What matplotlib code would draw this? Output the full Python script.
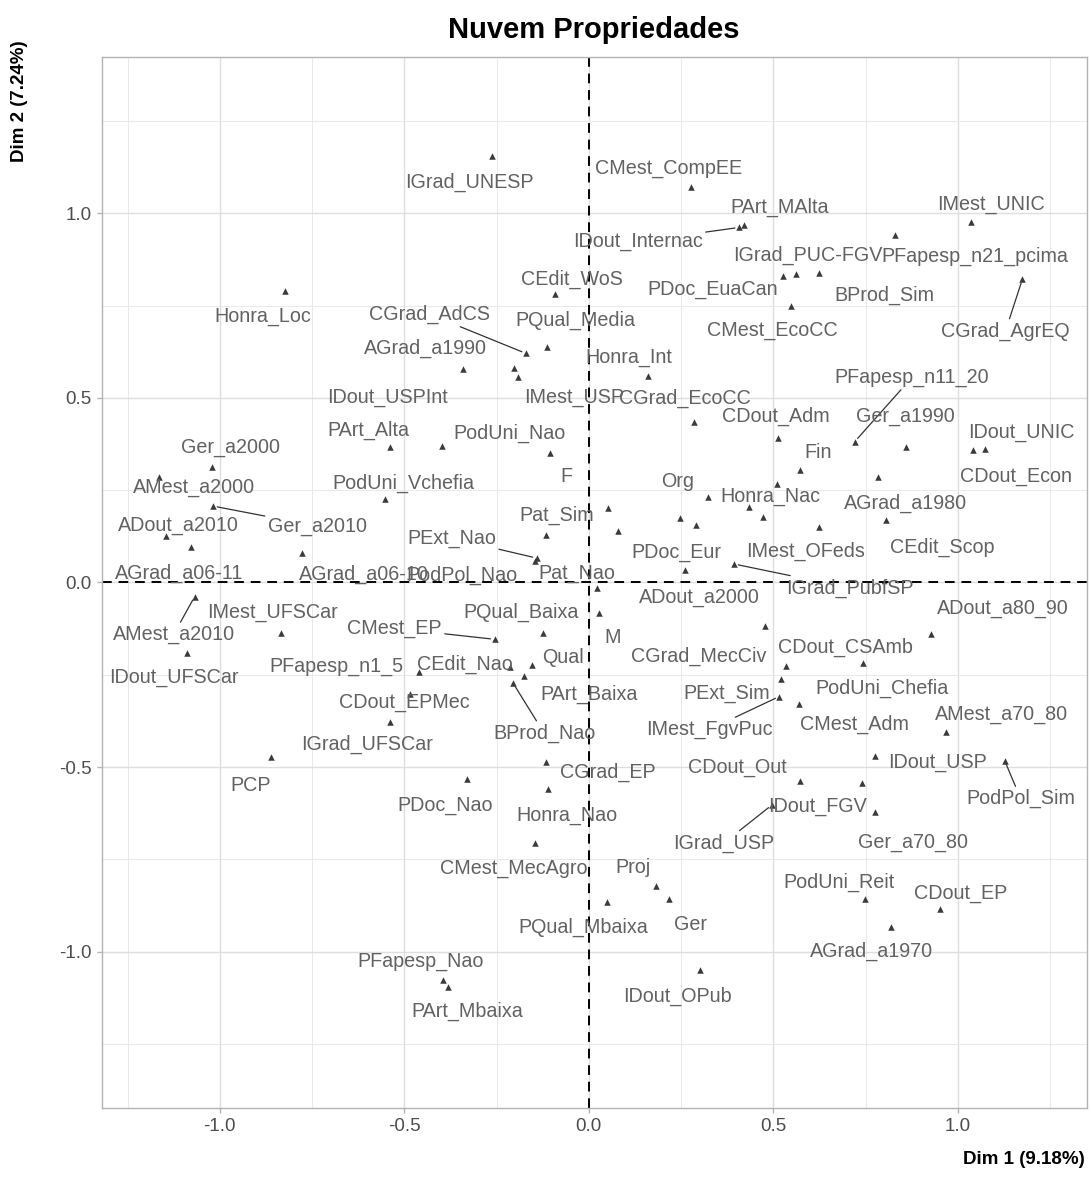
# nuvem_propriedades.py
# MCA variable-category cloud (Dim 1 x Dim 2) with repelled-style labels.
# Run: python nuvem_propriedades.py

import matplotlib
matplotlib.use("Agg")
import matplotlib.pyplot as plt
from matplotlib.ticker import MultipleLocator

plt.rcParams["font.family"] = ["Liberation Sans", "DejaVu Sans"]

# ── DATA ──────────────────────────────────────────────────────────────────────

categories = [
    "IGrad_UNESP", "CMest_CompEE", "PArt_MAlta", "IDout_Internac", "IMest_UNIC",
    "IGrad_PUC-FGV", "PFapesp_n21_pcima", "CEdit_WoS", "PDoc_EuaCan", "BProd_Sim",
    "CMest_EcoCC", "CGrad_AgrEQ", "Honra_Loc", "CGrad_AdCS", "PQual_Media",
    "AGrad_a1990", "Honra_Int", "IDout_USPInt", "IMest_USP", "CGrad_EcoCC",
    "PFapesp_n11_20", "CDout_Adm", "Ger_a1990", "IDout_UNIC", "CDout_Econ",
    "PArt_Alta", "PodUni_Nao", "F", "Ger_a2000", "AMest_a2000",
    "PodUni_Vchefia", "Ger_a2010", "ADout_a2010", "AGrad_a06-11", "AGrad_a06-10",
    "Fin", "AGrad_a1980", "CEdit_Scop", "IMest_OFeds", "Org",
    "Honra_Nac", "PDoc_Eur", "ADout_a2000", "IGrad_PubfSP", "Pat_Sim",
    "PExt_Nao", "PodPol_Nao", "Pat_Nao", "M", "PQual_Baixa",
    "CMest_EP", "CEdit_Nao", "Qual", "PArt_Baixa", "BProd_Nao",
    "PFapesp_n1_5", "CDout_EPMec", "IMest_UFSCar", "AMest_a2010", "IDout_UFSCar",
    "IGrad_UFSCar", "PCP", "PDoc_Nao", "CGrad_EP", "Honra_Nao",
    "CMest_MecAgro", "Proj", "Ger", "PQual_Mbaixa", "PFapesp_Nao",
    "PArt_Mbaixa", "IDout_OPub", "CGrad_MecCiv", "CDout_CSAmb", "PExt_Sim",
    "IMest_FgvPuc", "CMest_Adm", "PodUni_Chefia", "ADout_a80_90", "AMest_a70_80",
    "IDout_USP", "PodPol_Sim", "CDout_Out", "IDout_FGV", "IGrad_USP",
    "Ger_a70_80", "PodUni_Reit", "CDout_EP", "AGrad_a1970",
    # categories whose labels were dropped for overlap
    "", "", "", "", "",
]

dim1 = [
    -0.261, 0.278, 0.420, 0.407, 1.037,
    0.561, 0.829, -0.092, 0.525, 0.624,
    0.549, 1.175, -0.824, -0.171, -0.112,
    -0.342, 0.161, -0.203, -0.193, 0.285,
    0.721, 0.513, 0.859, 1.073, 1.041,
    -0.539, -0.399, -0.106, -1.020, -1.164,
    -0.553, -1.018, -1.147, -1.079, -0.777,
    0.572, 0.784, 0.804, 0.624, 0.323,
    0.434, 0.247, 0.262, 0.394, -0.115,
    -0.141, -0.146, 0.022, 0.027, -0.125,
    -0.255, -0.214, -0.155, -0.176, -0.205,
    -0.460, -0.485, -0.833, -1.068, -1.089,
    -0.539, -0.860, -0.331, -0.115, -0.110,
    -0.146, 0.182, 0.218, 0.048, -0.395,
    -0.381, 0.301, 0.477, 0.534, 0.522,
    0.516, 0.570, 0.742, 0.926, 0.969,
    0.775, 1.127, 0.572, 0.739, 0.496,
    0.775, 0.748, 0.951, 0.820,
    0.052, 0.079, 0.290, 0.472, 0.509,
]

dim2 = [
    1.156, 1.073, 0.969, 0.962, 0.978,
    0.836, 0.942, 0.782, 0.831, 0.838,
    0.749, 0.822, 0.791, 0.621, 0.637,
    0.578, 0.560, 0.580, 0.558, 0.436,
    0.382, 0.391, 0.367, 0.361, 0.359,
    0.366, 0.370, 0.351, 0.314, 0.287,
    0.225, 0.207, 0.126, 0.097, 0.079,
    0.305, 0.287, 0.169, 0.151, 0.231,
    0.204, 0.174, 0.034, 0.050, 0.129,
    0.066, 0.058, -0.015, -0.083, -0.136,
    -0.154, -0.228, -0.224, -0.253, -0.273,
    -0.242, -0.302, -0.138, -0.038, -0.192,
    -0.377, -0.474, -0.533, -0.486, -0.560,
    -0.707, -0.822, -0.859, -0.865, -1.077,
    -1.095, -1.050, -0.117, -0.226, -0.262,
    -0.309, -0.329, -0.217, -0.140, -0.404,
    -0.470, -0.483, -0.537, -0.543, -0.603,
    -0.621, -0.859, -0.886, -0.933,
    0.201, 0.140, 0.156, 0.178, 0.267,
]

dim1_pct = 9.18
dim2_pct = 7.24

# ── LABEL LAYOUT (pixel offsets of each label centre from its point) ─────────

LABEL_OFFSETS = {
    "IGrad_UNESP": (-23, -26), "CMest_CompEE": (-23, 18), "PArt_MAlta": (36, 18),
    "IDout_Internac": (-101, -14), "IMest_UNIC": (20, 17), "IGrad_PUC-FGV": (12, 19),
    "PFapesp_n21_pcima": (80, -22), "CEdit_WoS": (17, 15), "PDoc_EuaCan": (-70, -14),
    "BProd_Sim": (65, -22), "CMest_EcoCC": (-19, -24), "CGrad_AgrEQ": (-17, -52),
    "Honra_Loc": (-22, -26), "CGrad_AdCS": (-96, 39), "PQual_Media": (28, 27),
    "AGrad_a1990": (-37, 21), "Honra_Int": (-19, 18), "IDout_USPInt": (-126, -29),
    "IMest_USP": (57, -21), "CGrad_EcoCC": (-9, 23), "PFapesp_n11_20": (57, 64),
    "CDout_Adm": (-2, 22), "Ger_a1990": (0, 31), "IDout_UNIC": (37, 17),
    "CDout_Econ": (43, -26), "PArt_Alta": (-22, 17), "PodUni_Nao": (68, 13),
    "F": (17, -24), "Ger_a2000": (18, 19), "AMest_a2000": (35, -11),
    "PodUni_Vchefia": (19, 16), "Ger_a2010": (104, -20), "ADout_a2010": (13, 10),
    "AGrad_a06-11": (-11, -27), "AGrad_a06-10": (62, -21), "Fin": (18, 17),
    "AGrad_a1980": (27, -27), "CEdit_Scop": (57, -27), "IMest_OFeds": (-14, -25),
    "Org": (-30, 16), "Honra_Nac": (21, 11), "PDoc_Eur": (-4, -34),
    "ADout_a2000": (14, -28), "IGrad_PubfSP": (116, -24), "Pat_Sim": (10, 20),
    "PExt_Nao": (-85, 20), "PodPol_Nao": (-73, -14), "Pat_Nao": (-20, 15),
    "M": (14, -24), "PQual_Baixa": (-22, 20), "CMest_EP": (-100, 11),
    "CEdit_Nao": (-45, 2), "Qual": (31, 8), "PArt_Baixa": (65, -19),
    "BProd_Nao": (31, -50), "PFapesp_n1_5": (-83, 5), "CDout_EPMec": (-6, -9),
    "IMest_UFSCar": (-9, 21), "AMest_a2010": (-21, -38), "IDout_UFSCar": (-13, -24),
    "IGrad_UFSCar": (-23, -23), "PCP": (-21, -28), "PDoc_Nao": (-22, -26),
    "CGrad_EP": (61, -11), "Honra_Nao": (19, -26), "CMest_MecAgro": (-21, -25),
    "Proj": (-23, 18), "Ger": (21, -25), "PQual_Mbaixa": (-23, -26),
    "PFapesp_Nao": (-22, 18), "PArt_Mbaixa": (19, -25), "IDout_OPub": (-22, -26),
    "CGrad_MecCiv": (-66, -31), "CDout_CSAmb": (60, 19), "PExt_Sim": (-55, -14),
    "IMest_FgvPuc": (-70, -33), "CMest_Adm": (55, -20), "PodUni_Chefia": (19, -26),
    "ADout_a80_90": (72, 26), "AMest_a70_80": (55, 17), "IDout_USP": (63, -7),
    "PodPol_Sim": (16, -38), "CDout_Out": (-63, 13), "IDout_FGV": (-44, -24),
    "IGrad_USP": (-48, -38), "Ger_a70_80": (38, -31), "PodUni_Reit": (-26, 17),
    "CDout_EP": (21, 16), "AGrad_a1970": (-20, -25),
}

# labels pushed far enough from their point to get a leader segment
SEGMENT_LABELS = {
    "IDout_Internac", "CGrad_AgrEQ", "CGrad_AdCS", "PFapesp_n11_20", "Ger_a2010",
    "IGrad_PubfSP", "PExt_Nao", "CMest_EP", "BProd_Nao", "AMest_a2010",
    "IMest_FgvPuc", "PodPol_Sim", "IGrad_USP",
}

POINT_COLOR = "#3a3a3a"
TEXT_COLOR = "#626262"

# ── FIGURE ────────────────────────────────────────────────────────────────────

fig = plt.figure(figsize=(10.91, 11.82), dpi=100)
ax = fig.add_axes([0.0932, 0.0626, 0.9028, 0.8892])

ax.set_xlim(-1.320, 1.349)
ax.set_ylim(-1.424, 1.424)

# theme_light-like grid and frame
ax.xaxis.set_major_locator(MultipleLocator(0.5))
ax.yaxis.set_major_locator(MultipleLocator(0.5))
ax.xaxis.set_minor_locator(MultipleLocator(0.25))
ax.yaxis.set_minor_locator(MultipleLocator(0.25))
ax.grid(which="major", color="#dedede", linewidth=1.0)
ax.grid(which="minor", color="#e9e9e9", linewidth=0.7)
ax.set_axisbelow(True)
for sp in ax.spines.values():
    sp.set_color("#b3b3b3")
    sp.set_linewidth(1.0)
ax.tick_params(which="major", length=3.5, width=1.0, color="#b3b3b3",
               labelsize=13.5, labelcolor="#4d4d4d", pad=4)
ax.tick_params(which="minor", length=0)
ax.xaxis.set_major_formatter(plt.FuncFormatter(lambda v, _: f"{v:.1f}"))
ax.yaxis.set_major_formatter(plt.FuncFormatter(lambda v, _: f"{v:.1f}"))

# origin reference lines
ax.axhline(0, color="black", linewidth=1.4, linestyle=(0, (5, 3.5)), zorder=2)
ax.axvline(0, color="black", linewidth=1.4, linestyle=(0, (5, 3.5)), zorder=2)

# category points
ax.scatter(dim1, dim2, marker="^", s=22, color=POINT_COLOR, linewidths=0, zorder=4)

# labels
for name, x, y in zip(categories, dim1, dim2):
    if not name:
        continue
    dx, dy = LABEL_OFFSETS[name]
    arrow = None
    if name in SEGMENT_LABELS:
        arrow = dict(arrowstyle="-", color="#333333", lw=0.9, shrinkA=0, shrinkB=3)
    ax.annotate(name, xy=(x, y), xytext=(dx, dy), textcoords="offset pixels",
                ha="center", va="center", fontsize=14.2, color=TEXT_COLOR,
                arrowprops=arrow, zorder=5)

ax.set_title("Nuvem Propriedades", fontsize=21, fontweight="bold", pad=14)

fig.text(1085 / 1091, 1 - 1160 / 1182, f"Dim 1 ({dim1_pct:.2f}%)",
         ha="right", va="center", fontsize=13.5, fontweight="bold")
fig.text(20 / 1091, 1 - 40 / 1182, f"Dim 2 ({dim2_pct:.2f}%)",
         ha="center", va="top", rotation=90, fontsize=13.5, fontweight="bold")

fig.savefig("out.png", dpi=100)
plt.close(fig)
